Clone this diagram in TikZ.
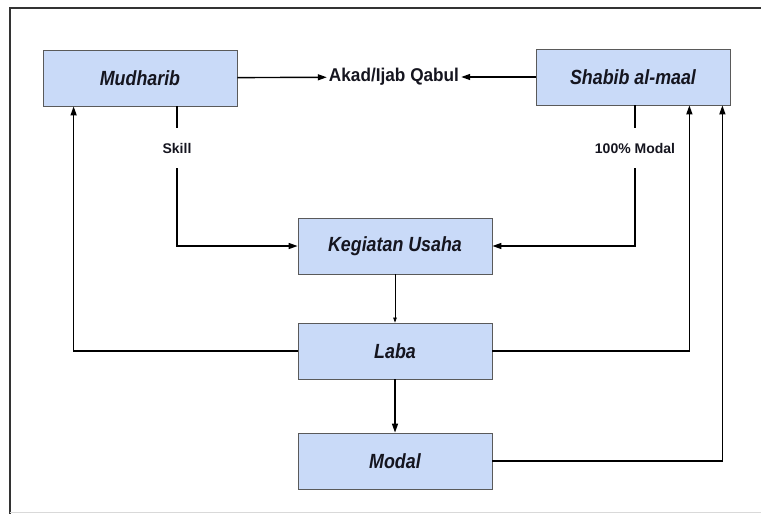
\documentclass[tikz,border=0pt]{standalone}
\usepackage{fontspec}
\setmainfont{Liberation Sans}
\newfontfamily\boxfont[FakeStretch=0.87]{Liberation Sans}
\newfontfamily\akadfont[FakeStretch=0.93]{Liberation Sans}
\usepackage{tikz}
\usetikzlibrary{arrows.meta,positioning,shadows}
\definecolor{boxblue}{HTML}{C9DAF8}
\definecolor{boxline}{HTML}{5A5A5A}
\definecolor{ink}{HTML}{15151F}
\begin{document}
\begin{tikzpicture}[x=1pt,y=-1pt,
    party/.style={draw=boxline,line width=0.8pt,fill=boxblue,text=ink,
      minimum width=194pt,minimum height=56pt,inner sep=0pt,
      font=\boxfont\fontsize{20.5}{23}\selectfont\bfseries\itshape,
      drop shadow={shadow xshift=1.2pt,shadow yshift=-1.2pt,opacity=0.35}},
    akad/.style={font=\akadfont\fontsize{18.5}{21}\selectfont\bfseries,
      text=ink,inner sep=2pt},
    share/.style={font=\fontsize{14}{16}\selectfont\bfseries,text=ink,
      inner sep=1pt,minimum height=40pt},
    flow/.style={line width=1.4pt,-{Triangle[length=9pt,width=6pt]}},
    link/.style={line width=1.4pt}]
\useasboundingbox (0,0) rectangle (761,514);
\draw[line width=1.5pt,black!80] (10,514) -- (10,8) -- (761,8);
\draw[line width=0.8pt,black!15] (10,512) -- (761,512);
\node[party] (Mudharib) at (140,78) {Mudharib};
\node[party] (Shabib) at (633,77) {Shabib al-maal};
\node[akad] (Akad) at (394,77) {Akad/Ijab Qabul};
\node[party] (Kegiatan) at (395,246) {Kegiatan Usaha};
\node[party] (Laba) at (395,351) {Laba};
\node[party] (Modal) at (395,461) {Modal};
\node[share] (Skill) at (177,148) {Skill};
\node[share] (Dana) at (635,148) {100\% Modal};
\draw[flow] (Mudharib) -- (Akad);
\draw[flow] (Shabib) -- (Akad);
\draw[link] (Mudharib.south -| Skill) -- (Skill.north);
\draw[flow] (Skill.south) |- (Kegiatan.west);
\draw[link] (Shabib.south -| Dana) -- (Dana.north);
\draw[flow] (Dana.south) |- (Kegiatan.east);
\draw[line width=0.7pt,-{Triangle[length=5pt,width=3.5pt]}] (Kegiatan) -- (Laba);
\draw[flow] (Laba) -- (Modal);
\draw[flow] (Laba.west) -| ([xshift=31pt]Mudharib.south west);
\draw[flow] (Laba.east) -| ([xshift=-41pt]Shabib.south east);
\draw[flow] (Modal.east) -| ([xshift=-8pt]Shabib.south east);
\end{tikzpicture}
\end{document}
